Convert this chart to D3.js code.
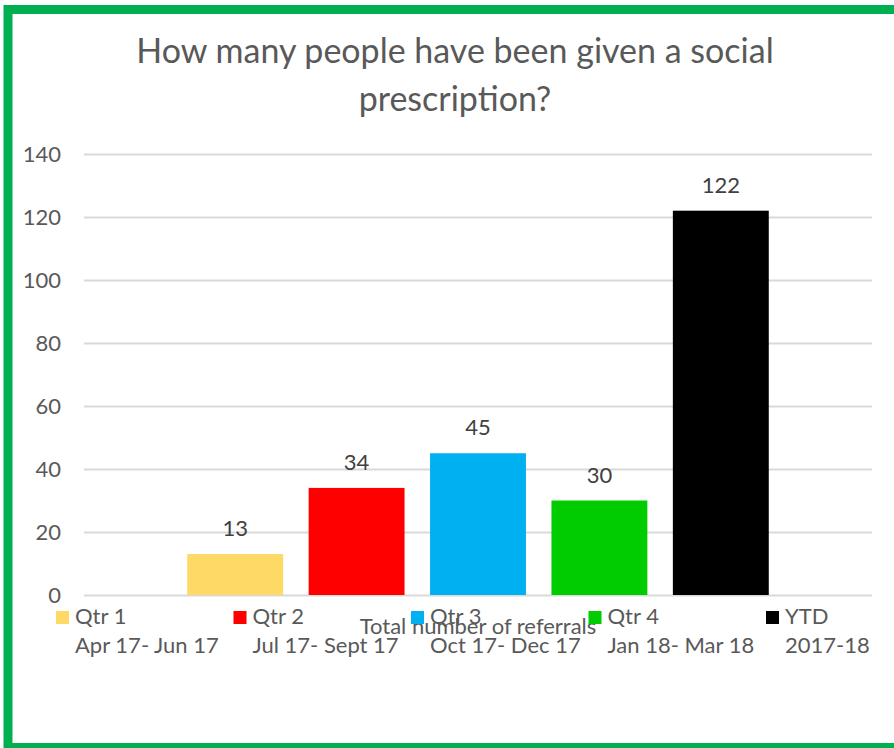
<!DOCTYPE html>
<html>
<head>
<meta charset="utf-8">
<script src="https://cdn.jsdelivr.net/npm/d3@7"></script>
<style>
  body { margin: 0; background: #fff; }
  svg { display: block; font-family: Lato, "Open Sans", sans-serif; }
</style>
</head>
<body>
<div id="chart"></div>
<script>
// chart data
var categories = ["Total number of referrals"];
var seriesNames = ["Qtr 1", "Qtr 2", "Qtr 3", "Qtr 4", "YTD"];
var seriesPeriods = ["Apr 17- Jun 17", "Jul 17- Sept 17", "Oct 17- Dec 17", "Jan 18- Mar 18", "2017-18"];
var seriesValues = [13, 34, 45, 30, 122];
var seriesColors = ["#FFD966", "#FF0000", "#00B0F0", "#00CC00", "#000000"];
var yTicks = [0, 20, 40, 60, 80, 100, 120, 140];
var titleLines = ["How many people have been given a social", "prescription?"];

var width = 894;
var height = 748;
var plotLeft = 84, plotRight = 872, plotTop = 154, plotBottom = 595;
var textColor = "#595959";

var svg = d3.select("#chart").append("svg")
    .attr("width", width)
    .attr("height", height);

/*****************  Frame **********************/
svg.append("rect")
    .attr("x", 8)
    .attr("y", 9.5)
    .attr("width", 900)
    .attr("height", 738)
    .style("fill", "#fff")
    .style("stroke", "#00B050")
    .style("stroke-width", 9);

/*****************  Title **********************/
svg.append("text")
    .attr("x", 455)
    .attr("y", 63)
    .attr("text-anchor", "middle")
    .style("font-size", "34px")
    .style("fill", textColor)
    .selectAll("tspan")
    .data(titleLines)
    .enter()
    .append("tspan")
    .attr("x", 455)
    .attr("dy", function (d, i) { return i == 0 ? 0 : 48; })
    .text(function (d) { return d; });

/*****************  Scales **********************/
var y = d3.scaleLinear()
    .domain([0, 140])
    .range([plotBottom, plotTop]);

var x0 = d3.scaleBand()
    .domain(categories)
    .range([plotLeft, plotRight])
    .padding(0);

var clusterGap = x0.bandwidth() * 0.131;
var x1 = d3.scaleBand()
    .domain(seriesNames)
    .range([clusterGap, x0.bandwidth() - clusterGap])
    .paddingInner(0.21)
    .paddingOuter(0);

/*****************  Grid + Y axis **********************/
var yAxis = d3.axisLeft(y)
    .tickValues(yTicks)
    .tickSize(-(plotRight - plotLeft))
    .tickPadding(23);

var yG = svg.append("g")
    .attr("transform", "translate(" + plotLeft + ",0)")
    .call(yAxis);
yG.select(".domain").remove();
yG.selectAll(".tick line")
    .style("stroke", "#D9D9D9")
    .style("stroke-width", 2);
yG.selectAll(".tick text")
    .style("font-size", "22px")
    .style("font-family", "Lato, sans-serif")
    .style("fill", textColor);

/*****************  Bars **********************/
var barData = seriesNames.map(function (name, i) {
    return { category: categories[0], name: name, value: seriesValues[i], color: seriesColors[i] };
});

var bars = svg.append("g").selectAll(".bar")
    .data(barData)
    .enter()
    .append("rect")
    .attr("class", "bar")
    .attr("x", function (d) { return x0(d.category) + x1(d.name); })
    .attr("y", function (d) { return y(d.value); })
    .attr("width", x1.bandwidth())
    .attr("height", function (d) { return y(0) - y(d.value); })
    .style("fill", function (d) { return d.color; });

svg.append("g").selectAll(".label")
    .data(barData)
    .enter()
    .append("text")
    .attr("class", "label")
    .attr("x", function (d) { return x0(d.category) + x1(d.name) + x1.bandwidth() / 2; })
    .attr("y", function (d) { return y(d.value) - 18; })
    .attr("text-anchor", "middle")
    .style("font-size", "22px")
    .style("fill", "#404040")
    .text(function (d) { return d.value; });

/*****************  X axis category **********************/
var xAxis = d3.axisBottom(x0).tickSize(0).tickPadding(23);
var xG = svg.append("g")
    .attr("transform", "translate(0," + plotBottom + ")")
    .call(xAxis);
xG.select(".domain").remove();
xG.selectAll(".tick text")
    .style("font-size", "22px")
    .style("font-family", "Lato, sans-serif")
    .style("fill", textColor);

/*****************  Legend **********************/
var legendX = d3.scalePoint()
    .domain(seriesNames)
    .range([56, 766]);

var legend = svg.append("g").selectAll(".legend")
    .data(barData)
    .enter()
    .append("g")
    .attr("class", "legend")
    .attr("transform", function (d) { return "translate(" + legendX(d.name) + ",0)"; });

legend.append("rect")
    .attr("x", 0)
    .attr("y", 611)
    .attr("width", 13)
    .attr("height", 13)
    .style("fill", function (d) { return d.color; });

legend.append("text")
    .attr("x", 19)
    .attr("y", 624)
    .style("font-size", "22px")
    .style("fill", textColor)
    .text(function (d) { return d.name; });

legend.append("text")
    .attr("x", 19)
    .attr("y", 653)
    .style("font-size", "22px")
    .style("fill", textColor)
    .text(function (d, i) { return seriesPeriods[i]; });
</script>
</body>
</html>
